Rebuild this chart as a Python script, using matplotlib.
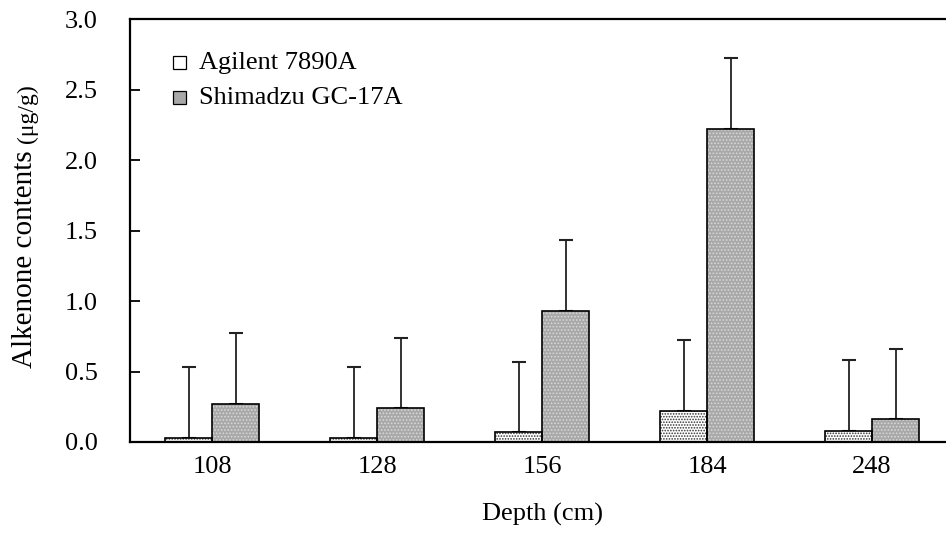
import matplotlib
matplotlib.use('Agg')
from matplotlib import pyplot as plt
from matplotlib.patches import Rectangle
import numpy as np

depths = ['108', '128', '156', '184', '248']
agilent = [0.03, 0.03, 0.07, 0.22, 0.08]
agilent_err = [0.5, 0.5, 0.5, 0.5, 0.5]
shimadzu = [0.27, 0.24, 0.93, 2.22, 0.16]
shimadzu_err = [0.5, 0.5, 0.5, 0.5, 0.5]

plt.rcParams['font.family'] = ['Liberation Serif', 'DejaVu Serif']
plt.rcParams['hatch.linewidth'] = 0.8

fig = plt.figure(figsize=(9.46, 5.5), dpi=100)
ax = fig.add_axes([130 / 946, 108 / 550, 824.5 / 946, 423 / 550])

x = np.arange(len(depths))
w = 0.285
a_fill = dict(color='white', edgecolor='#333333', hatch='......')
s_fill = dict(color='#a8a8a8', edgecolor='#d8d8d8', hatch='.....')

# fill + hatch first, then plain black outlines on top
ax.bar(x - w / 2, agilent, w, linewidth=0, zorder=2, **a_fill)
ax.bar(x - w / 2, agilent, w, color='none', edgecolor='black',
       linewidth=1.2, zorder=3)
ax.bar(x + w / 2, shimadzu, w, linewidth=0, zorder=2, **s_fill)
ax.bar(x + w / 2, shimadzu, w, color='none', edgecolor='black',
       linewidth=1.2, zorder=3)

ax.errorbar(x - w / 2, agilent, yerr=[np.zeros(5), agilent_err], fmt='none',
            ecolor='#222222', elinewidth=1.3, capsize=5, capthick=1.5, zorder=1)
ax.errorbar(x + w / 2, shimadzu, yerr=[np.zeros(5), shimadzu_err], fmt='none',
            ecolor='#222222', elinewidth=1.3, capsize=5, capthick=1.5, zorder=1)

ax.set_xlim(-0.5, 4.5)
ax.set_ylim(0, 3.0)
yt = np.arange(0, 3.01, 0.5)
ax.set_yticks(yt)
ax.set_yticklabels(['%.1f' % v for v in yt])
ax.set_xticks(x)
ax.set_xticklabels(depths)
ax.tick_params(axis='y', direction='in', length=7, width=1.3, pad=23, labelsize=19)
ax.tick_params(axis='x', length=0, pad=10, labelsize=19)

for s in ['left', 'top', 'bottom']:
    ax.spines[s].set_linewidth(1.6)
ax.spines['right'].set_visible(False)

ax.set_xlabel('Depth (cm)', fontsize=19, labelpad=18)

# legend drawn by hand so the swatches stay small squares
leg = [('Agilent 7890A', a_fill), ('Shimadzu GC-17A', s_fill)]
for i, (name, style) in enumerate(leg):
    yy = 0.896 - i * 0.083
    ax.add_patch(Rectangle((0.052, yy - 0.015), 0.0155, 0.031, transform=ax.transAxes,
                           linewidth=0, **style))
    ax.add_patch(Rectangle((0.052, yy - 0.015), 0.0155, 0.031, transform=ax.transAxes,
                           facecolor='none', edgecolor='black', linewidth=0.9))
    ax.text(0.084, yy, name, transform=ax.transAxes, va='center', ha='left', fontsize=19)

# y label: main text plus smaller unit text
t1 = fig.text(25 / 946, (550 - 368) / 550, 'Alkenone contents ', rotation=90,
              ha='center', va='bottom', fontsize=21)
fig.canvas.draw()
bb = t1.get_window_extent()
fig.text(27 / 946, bb.y1 / fig.bbox.height, '(\u03bcg/g)', rotation=90,
         ha='center', va='bottom', fontsize=17)

fig.savefig('out.png', dpi=100)
